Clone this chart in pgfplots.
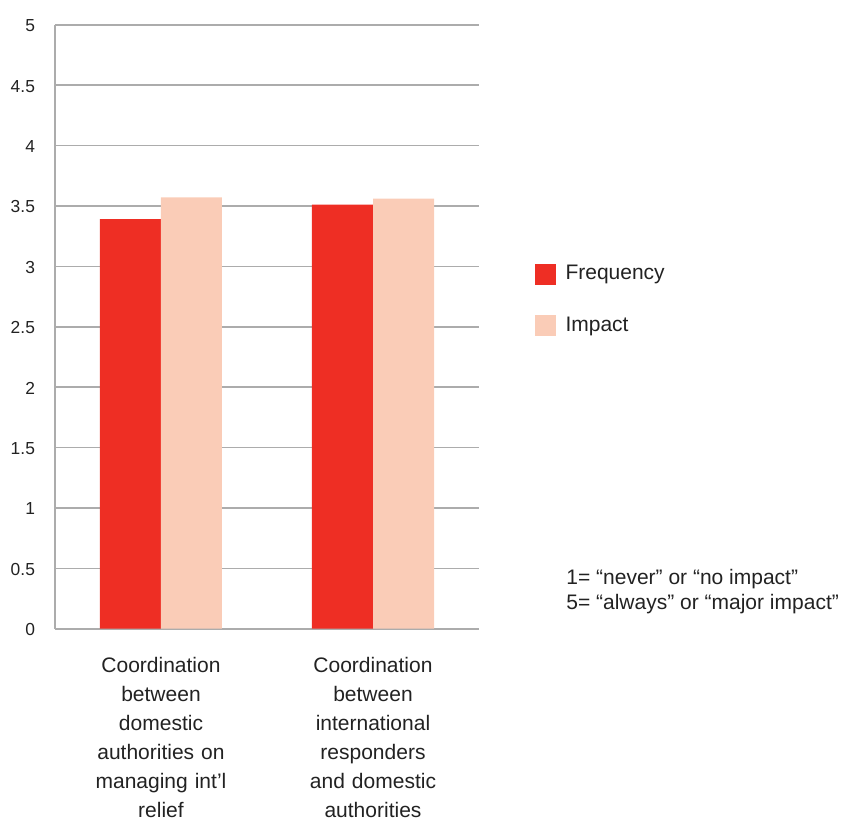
\documentclass[border=0pt]{standalone}
\usepackage{pgfplots}
\pgfplotsset{compat=1.18}
\usepackage{fontspec}
\setmainfont{Liberation Sans}
\definecolor{freq}{RGB}{238,46,36}
\definecolor{imp}{RGB}{250,204,183}
\definecolor{gridc}{RGB}{172,172,172}
\definecolor{txt}{RGB}{34,34,34}
\begin{document}
\begin{tikzpicture}
\clip (0,0) rectangle (421pt,-409.5pt);
\begin{axis}[
  at={(27.5pt,-314.35pt)}, anchor=south west,
  scale only axis, width=212pt, height=302pt,
  ymin=0, ymax=5, xmin=-0.5, xmax=1.5,
  ytick={0,0.5,1,1.5,2,2.5,3,3.5,4,4.5,5},
  /pgf/number format/assume math mode=true,
  ybar=0pt, bar width=30.5pt,
  xtick={0,1},
  xticklabels={{Coordination\\between\\domestic\\authorities on\\managing int’l\\relief},
               {Coordination\\between\\international\\responders\\and domestic\\authorities}},
  axis x line*=bottom, axis y line*=left,
  axis line style={draw=gridc, line width=0.8pt, -},
  ymajorgrids, grid style={draw=gridc, line width=0.8pt},
  major tick length=0pt,
  yticklabel style={font=\fontsize{8.7}{10}\selectfont, text=txt, xshift=-6.5pt, yshift=-0.5pt},
  xticklabel style={font=\fontsize{10.5}{14.5}\selectfont, text=txt, align=center, text width=80pt, yshift=-11pt},
  legend image code/.code={\fill[#1] (0pt,-5.25pt) rectangle (10.5pt,5.25pt);},
  legend style={draw=none, fill=none, at={(axis description cs:1.13,0.609)}, anchor=north west,
    font=\fontsize{10.5}{12}\selectfont, text=txt, row sep=13pt, inner sep=0pt,
    /tikz/every odd column/.append style={column sep=3pt}},
  legend cell align=left,
]
\addplot[fill=freq, draw=none] coordinates {(0,3.39) (1,3.51)};
\addplot[fill=imp, draw=none] coordinates {(0,3.57) (1,3.56)};
\legend{Frequency, Impact}
\end{axis}
\node[anchor=north west, align=left, inner sep=0pt, text=txt, font=\fontsize{10.5}{12.2}\selectfont]
  at (283pt,-284.5pt) {1= “never” or “no impact”\\5= “always” or “major impact”};
\end{tikzpicture}
\end{document}
